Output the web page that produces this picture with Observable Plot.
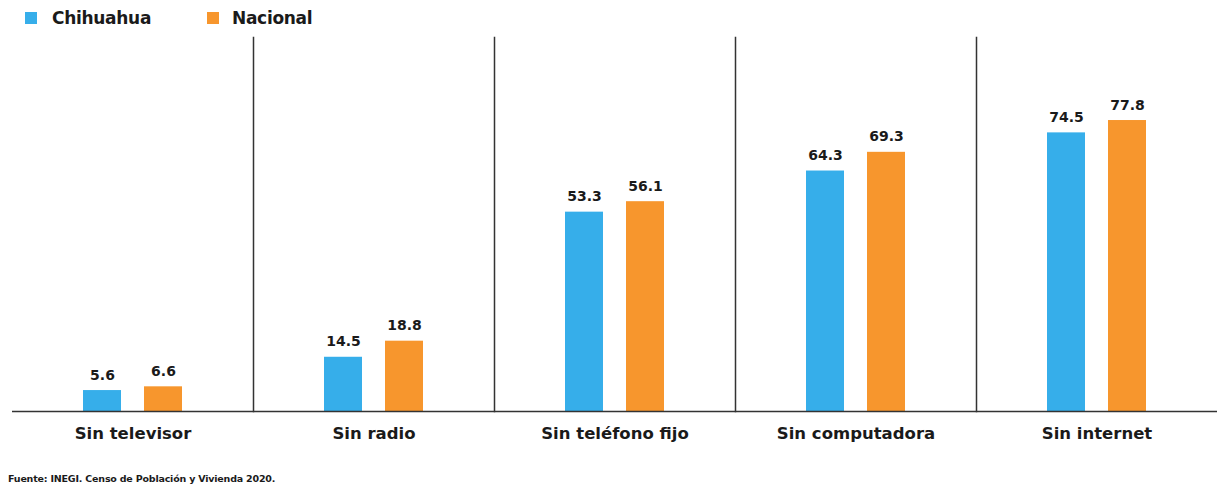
<!DOCTYPE html>
<html><head><meta charset="utf-8">
<script src="https://cdn.jsdelivr.net/npm/d3@7"></script>
<script src="https://cdn.jsdelivr.net/npm/@observablehq/plot@0.6"></script>
<style>
body{margin:0;background:#fff;font-family:"DejaVu Sans",sans-serif;font-weight:bold;color:#1a1a1a;}
#legend{height:30px;position:relative;font-size:17px;}
.sw{position:absolute;top:12px;width:12px;height:12px;}
.lt{position:absolute;top:8px;line-height:20px;letter-spacing:-0.3px;}
#caption{font-size:9.5px;margin-left:8px;margin-top:18px;letter-spacing:-0.2px;}
</style></head><body>
<div id="legend"></div><div id="chart"></div><div id="caption">Fuente: INEGI. Censo de Población y Vivienda 2020.</div>
<script>
const categories = ["Sin televisor","Sin radio","Sin teléfono fijo","Sin computadora","Sin internet"];
const series = ["Chihuahua","Nacional"];
const chihuahua = [5.6, 14.5, 53.3, 64.3, 74.5];
const nacional = [6.6, 18.8, 56.1, 69.3, 77.8];
const colors = ["#36aeea","#f7962d"];

const data = categories.flatMap((c,i)=>[
  {cat:c, serie:series[0], value:chihuahua[i]},
  {cat:c, serie:series[1], value:nacional[i]}
]);

// legend
const legend = document.getElementById("legend");
const legendPos = [[25,52],[207,232]];
series.forEach((s,i)=>{
  const sw = document.createElement("div");
  sw.className="sw"; sw.style.left=legendPos[i][0]+"px"; sw.style.background=colors[i];
  const t = document.createElement("div");
  t.className="lt"; t.style.left=legendPos[i][1]+"px"; t.textContent=s;
  legend.appendChild(sw); legend.appendChild(t);
});

const plot = Plot.plot({
  width:1218, height:425, marginTop:7, marginBottom:44, marginLeft:10, marginRight:0,
  style:{fontFamily:"DejaVu Sans, sans-serif", fontWeight:"bold", fontSize:"16.5px", color:"#1a1a1a", background:"#fff"},
  fx:{domain:categories, padding:0, axis:"bottom", label:null, tickSize:0, tickPadding:16},
  x:{domain:series, paddingInner:0.38, paddingOuter:1.138, axis:null},
  y:{domain:[0,100], axis:null},
  color:{domain:series, range:colors},
  marks:[
    Plot.barY(data,{fx:"cat", x:"serie", y:"value", fill:"serie"}),
    Plot.text(data,{fx:"cat", x:"serie", y:"value", text:d=>d.value.toFixed(1), lineAnchor:"bottom", dy:-11, fontSize:14, fontWeight:"bold", fill:"#1a1a1a"}),
    Plot.ruleY([0],{stroke:"#333", strokeWidth:1.5}),
    ...categories.slice(1).map(c=>Plot.frame({anchor:"left", fx:[c], stroke:"#333", strokeWidth:1.5}))
  ]
});
document.getElementById("chart").appendChild(plot);
</script>
</body></html>
